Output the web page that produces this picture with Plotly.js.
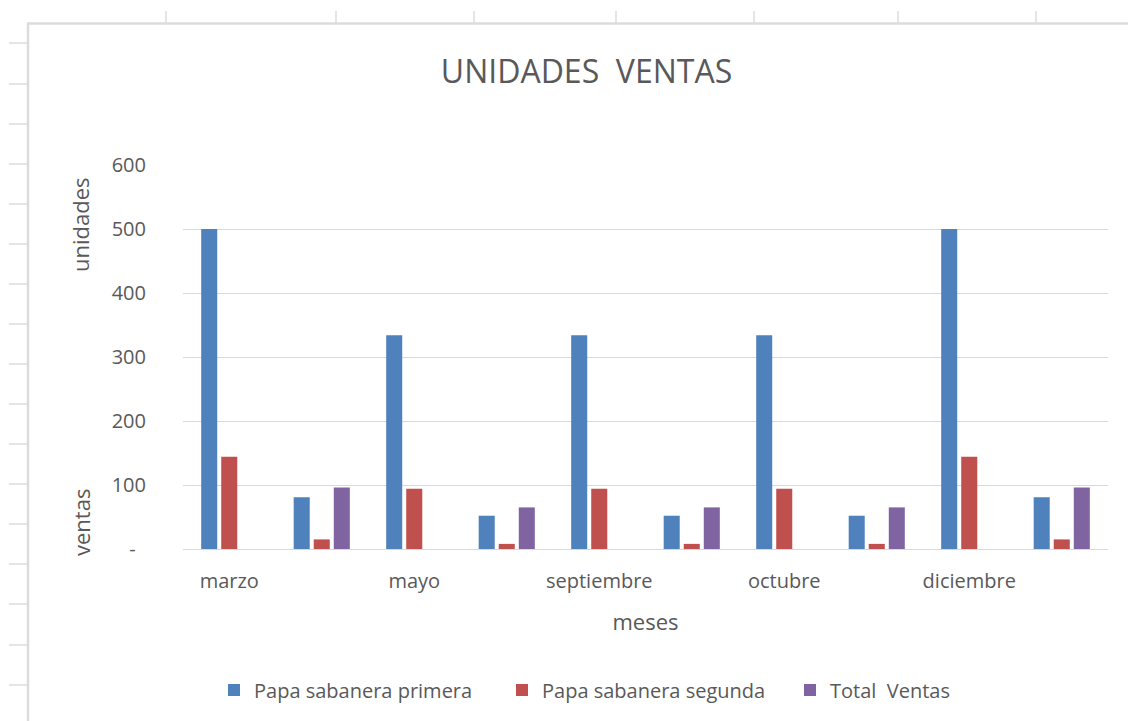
<!DOCTYPE html>
<html>
<head>
<meta charset="utf-8">
<script src="https://cdn.plot.ly/plotly-3.0.1.min.js"></script>
<style>html,body{margin:0;padding:0;background:#fff;}#chart{width:1128px;height:721px;}</style>
</head>
<body>
<div id="chart"></div>
<script>
// ---- data ----
var slotLabels = ["marzo", "", "mayo", "", "septiembre", "", "octubre", "", "diciembre", ""];
var seriesNames = ["Papa sabanera primera", "Papa sabanera segunda", "Total  Ventas"];
var primera = [500, 81, 334, 52, 334, 52, 334, 52, 500, 81];
var segunda = [144, 15, 94, 8, 94, 8, 94, 8, 144, 15];
var totalVentas = [0, 96, 0, 65, 0, 65, 0, 65, 0, 96];
var yTickVals = [0, 100, 200, 300, 400, 500, 600];
var yTickText = ["-\u00a0\u00a0", "100", "200", "300", "400", "500", "600"];

// ---- layout helpers ----
var W = 1128, H = 721;
var M = {l: 183, r: 20, t: 165, b: 172};
var PW = W - M.l - M.r, PH = H - M.t - M.b;
function xp(px) { return (px - M.l) / PW; }
function yp(py) { return (H - M.b - py) / PH; }

var slots = slotLabels.map(function (_, i) { return i; });
var colors = ["#4F81BD", "#C0504D", "#8064A2"];
var values = [primera, segunda, totalVentas];
var traces = values.map(function (v, k) {
  return {type: "bar", name: seriesNames[k], x: slots, y: v,
          marker: {color: colors[k], line: {width: 0}}, hoverinfo: "x+y+name"};
});

var frame = "#dcdcdc";
var shapes = [];
shapes.push({type: "line", xref: "paper", yref: "paper", x0: xp(27), x1: xp(1128), y0: yp(23.5), y1: yp(23.5), line: {color: frame, width: 2.5}, layer: "below"});
shapes.push({type: "line", xref: "paper", yref: "paper", x0: xp(28), x1: xp(28), y0: yp(23.5), y1: yp(721), line: {color: frame, width: 2.5}, layer: "below"});
[166, 336, 474, 616, 754, 898, 1036].forEach(function (px) {
  shapes.push({type: "line", xref: "paper", yref: "paper", x0: xp(px), x1: xp(px), y0: yp(11), y1: yp(23.5), line: {color: frame, width: 1.5}, layer: "below"});
});
[43, 84, 124, 164, 204, 244, 284, 324, 364, 404, 444, 484, 524, 564, 604, 645, 685].forEach(function (py) {
  shapes.push({type: "line", xref: "paper", yref: "paper", x0: xp(9), x1: xp(28), y0: yp(py), y1: yp(py), line: {color: frame, width: 1.5}, layer: "below"});
});

var grey = "#595959";
var font = "Open Sans, Noto Sans, sans-serif";
var layout = {
  width: W, height: H,
  margin: M,
  paper_bgcolor: "#ffffff", plot_bgcolor: "#ffffff",
  font: {family: font, color: grey, size: 20},
  title: {text: "UNIDADES  VENTAS", font: {family: font, size: 32, color: grey},
          xref: "container", yref: "container", x: 586.5 / W, xanchor: "center", y: 1 - 72 / H, yanchor: "middle"},
  barmode: "group", bargap: 0.35, bargroupgap: 0.2,
  xaxis: {
    range: [-0.5, slotLabels.length - 0.5],
    tickmode: "array", tickvals: slots, ticktext: slotLabels,
    showgrid: false, zeroline: false, showline: false, ticks: "",
    tickfont: {size: 20, color: grey}, ticklabelstandoff: 18,
    title: {text: "meses", font: {size: 22, color: grey}, standoff: 21}
  },
  yaxis: {
    range: [0, 600], tickmode: "array", tickvals: yTickVals, ticktext: yTickText,
    showgrid: true, gridcolor: "#d9d9d9", gridwidth: 1,
    zeroline: true, zerolinecolor: "#d9d9d9", zerolinewidth: 1,
    showline: false, ticks: "", tickfont: {size: 20, color: grey}, ticklabelstandoff: 36
  },
  showlegend: true,
  legend: {orientation: "h", x: xp(214), xanchor: "left", y: yp(690), yanchor: "middle",
           entrywidth: 243, entrywidthmode: "pixels",
           font: {size: 20, color: grey}, traceorder: "normal", bgcolor: "rgba(0,0,0,0)"},
  annotations: [
    {text: "unidades", xref: "paper", yref: "paper", x: xp(80), y: yp(225), textangle: -90,
     showarrow: false, xanchor: "center", yanchor: "middle", font: {size: 22, color: grey}},
    {text: "ventas", xref: "paper", yref: "paper", x: xp(81), y: yp(523), textangle: -90,
     showarrow: false, xanchor: "center", yanchor: "middle", font: {size: 22, color: grey}}
  ],
  shapes: shapes
};
Plotly.newPlot("chart", traces, layout, {displayModeBar: false, staticPlot: true});
</script>
</body>
</html>
